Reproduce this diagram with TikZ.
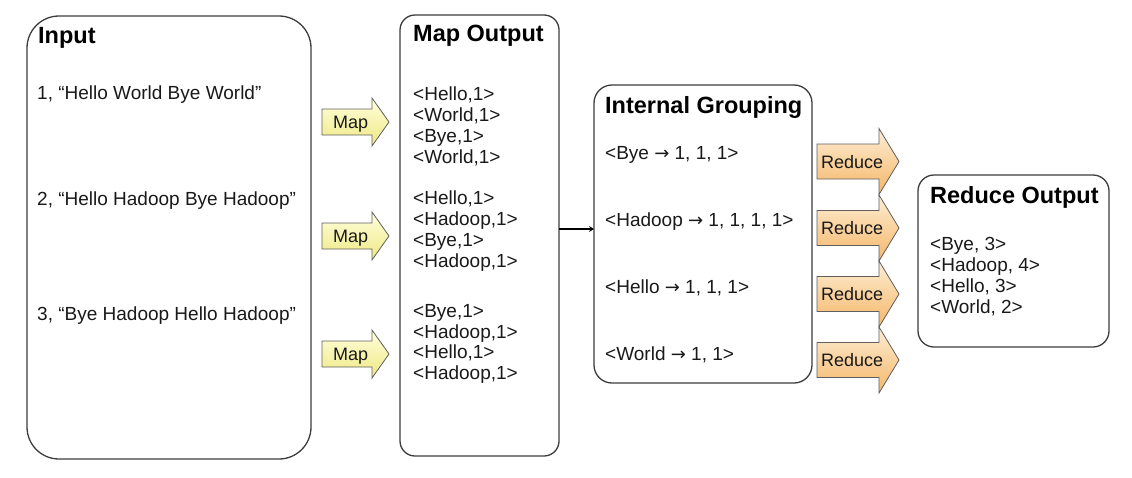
\documentclass[tikz,border=0pt]{standalone}
\usepackage{fontspec}
\setmainfont{Liberation Sans}
\newfontfamily\arrfont{DejaVu Sans}
\newcommand\myarr{{\arrfont\fontsize{18}{21}\selectfont →}}
\usetikzlibrary{arrows.meta}
\definecolor{edge}{RGB}{60,60,60}
\definecolor{arredge}{RGB}{95,95,95}
\definecolor{mapA}{RGB}{255,255,222}
\definecolor{mapB}{RGB}{238,232,130}
\definecolor{redA}{RGB}{253,238,212}
\definecolor{redB}{RGB}{245,182,105}
\begin{document}
\begin{tikzpicture}[x=1pt,y=-1pt,
  box/.style={draw=edge, line width=1.3pt, inner sep=0pt, outer sep=0pt},
  txt/.style={anchor=base west, inner sep=0pt, font=\fontsize{19}{22}\selectfont, text=black!90},
  ttl/.style={anchor=base west, inner sep=0pt, font=\fontsize{23.5}{26}\selectfont\bfseries, text=black},
  alb/.style={anchor=base west, inner sep=0pt, font=\fontsize{18}{21}\selectfont, text=black!90},
  maparrow/.style={draw=arredge, line width=0.8pt, top color=mapA, bottom color=mapB},
  redarrow/.style={draw=arredge, line width=0.8pt, top color=redA, bottom color=redB},
  conn/.style={draw=black, line width=2.5pt, -{Stealth[length=5pt,width=6pt]}}
]
\useasboundingbox (0,0) rectangle (1132,477);

% boxes
\node[box, rounded corners=32pt, minimum width=284pt, minimum height=443pt] (input) at (169,237.5) {};
\node[box, rounded corners=15pt, minimum width=159pt, minimum height=441pt] (mapout) at (479.5,235.5) {};
\node[box, rounded corners=18pt, minimum width=218pt, minimum height=298pt] (group) at (703,234) {};
\node[box, rounded corners=16pt, minimum width=191pt, minimum height=172pt] (redout) at (1013.5,261) {};

% input texts
\node[ttl] (inT) at (38,43) {Input};
\node[txt] (in1) at (37,99) {1, “Hello World Bye World”};
\node[txt] (in2) at (37,205) {2, “Hello Hadoop Bye Hadoop”};
\node[txt] (in3) at (37,320) {3, “Bye Hadoop Hello Hadoop”};

% map output texts
\node[ttl] (moT) at (413,41.5) {Map Output};
\node[txt] (mo1) at (413,100) {<Hello,1>};
\node[txt] (mo2) at (413,121) {<World,1>};
\node[txt] (mo3) at (413,142) {<Bye,1>};
\node[txt] (mo4) at (413,163) {<World,1>};
\node[txt] (mo5) at (413,204) {<Hello,1>};
\node[txt] (mo6) at (413,225) {<Hadoop,1>};
\node[txt] (mo7) at (413,246) {<Bye,1>};
\node[txt] (mo8) at (413,267) {<Hadoop,1>};
\node[txt] (mo9) at (413,317) {<Bye,1>};
\node[txt] (mo10) at (413,338) {<Hadoop,1>};
\node[txt] (mo11) at (413,358) {<Hello,1>};
\node[txt] (mo12) at (413,379) {<Hadoop,1>};

% internal grouping texts
\node[ttl] (igT) at (605,113) {Internal Grouping};
\node[txt] (ig1) at (605,159) {<Bye \myarr\ 1, 1, 1>};
\node[txt] (ig2) at (605,226) {<Hadoop \myarr\ 1, 1, 1, 1>};
\node[txt] (ig3) at (605,293) {<Hello \myarr\ 1, 1, 1>};
\node[txt] (ig4) at (605,360) {<World \myarr\ 1, 1>};

% reduce output texts
\node[ttl] (roT) at (930,203) {Reduce Output};
\node[txt] (ro1) at (930,250) {<Bye, 3>};
\node[txt] (ro2) at (930,271) {<Hadoop, 4>};
\node[txt] (ro3) at (930,292) {<Hello, 3>};
\node[txt] (ro4) at (930,313) {<World, 2>};

% map arrows
\foreach \y/\n in {122/ma1,236/ma2,354/ma3}{
  \path[maparrow] (322,{\y-13}) -- (372,{\y-13}) -- (372,{\y-24}) -- (389,\y)
     -- (372,{\y+24}) -- (372,{\y+13}) -- (322,{\y+13}) -- cycle;
  \node[alb] (\n) at (333,{\y+6.5}) {Map};
}

% reduce arrows
\foreach \y/\n in {161.5/ra1,228/ra2,294/ra3,360/ra4}{
  \path[redarrow] (817,{\y-17.5}) -- (879,{\y-17.5}) -- (879,{\y-33}) -- (899,\y)
     -- (879,{\y+33}) -- (879,{\y+17.5}) -- (817,{\y+17.5}) -- cycle;
  \node[alb] (\n) at (821,{\y+6.5}) {Reduce};
}

% connector
\draw[conn] ([yshift=6.5pt]mapout.east) -- ([yshift=6.5pt]mapout.east -| group.west);
\end{tikzpicture}
\end{document}
